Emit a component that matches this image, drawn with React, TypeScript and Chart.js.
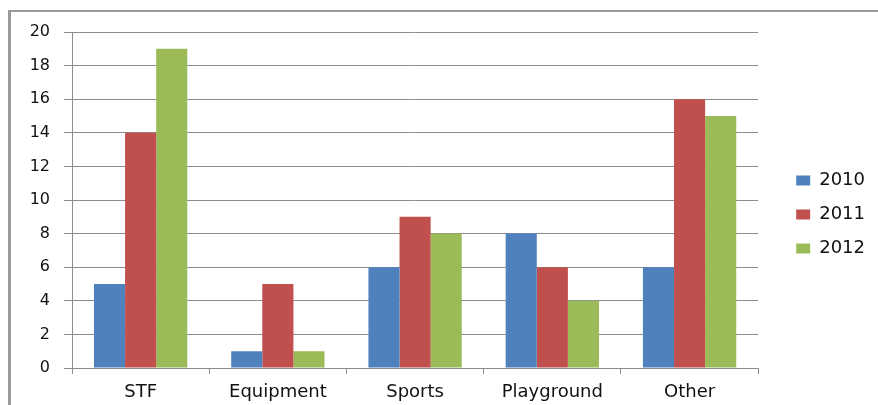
import React, { useEffect, useRef } from "react";
import { Chart, registerables } from "chart.js";

Chart.register(...registerables);

const categories = ["STF", "Equipment", "Sports", "Playground", "Other"];
const seriesNames = ["2010", "2011", "2012"];
const values2010 = [5, 1, 6, 8, 6];
const values2011 = [14, 5, 9, 6, 16];
const values2012 = [19, 1, 8, 4, 15];
const seriesColors = ["#4F81BD", "#C0504D", "#9BBB59"];

const legendShift = {
  id: "legendShift",
  afterLayout(chart: any) {
    const lg = chart.legend;
    if (lg) {
      lg.top -= 4;
      lg.bottom -= 4;
    }
  },
};

export default function App() {
  const ref = useRef<HTMLCanvasElement | null>(null);

  useEffect(() => {
    if (!ref.current) return;
    const data = [values2010, values2011, values2012];
    const chart = new Chart(ref.current, {
      type: "bar",
      data: {
        labels: categories,
        datasets: seriesNames.map((n, i) => ({
          label: n,
          data: data[i],
          backgroundColor: seriesColors[i],
          borderWidth: 0,
          categoryPercentage: 0.68,
          barPercentage: 1,
          yAxisID: "y",
        })),
      },
      options: {
        animation: false,
        responsive: false,
        maintainAspectRatio: false,
        layout: { padding: { top: 32, bottom: 0, left: 0, right: 3 } },
        plugins: {
          tooltip: { enabled: false },
          legend: {
            position: "right",
            labels: {
              boxWidth: 14,
              boxHeight: 10,
              padding: 16,
              color: "#111111",
              font: { family: "DejaVu Sans", size: 18 },
            },
          },
        },
        scales: {
          x: {
            afterFit: (s: any) => {
              s.height = 37;
            },
            grid: {
              display: true,
              drawOnChartArea: false,
              drawTicks: true,
              tickLength: 6,
              color: "#8c8c8c",
              lineWidth: 1,
            },
            border: { color: "#8c8c8c", width: 1 },
            ticks: {
              color: "#111111",
              padding: 8,
              font: { family: "DejaVu Sans", size: 18 },
            },
          },
          y: {
            min: 0,
            max: 20,
            afterFit: (s: any) => {
              s.width = 72;
            },
            grid: {
              color: "#8c8c8c",
              lineWidth: 1,
              drawTicks: true,
              tickLength: 8,
            },
            border: { color: "#8c8c8c", width: 1 },
            ticks: {
              stepSize: 2,
              color: "#111111",
              padding: 14,
              font: { family: "DejaVu Sans", size: 16 },
            },
          },
          yGap: {
            type: "linear",
            position: "right",
            min: 0,
            max: 20,
            afterFit: (s: any) => {
              s.width = 22;
            },
            grid: { display: false },
            border: { display: false },
            ticks: { display: false },
          },
        },
      },
      plugins: [legendShift],
    });
    return () => chart.destroy();
  }, []);

  return (
    <div style={{ position: "absolute", left: 0, top: 0, width: 878, height: 405, background: "#fff", overflow: "hidden" }}>
      <div
        style={{
          position: "absolute",
          left: 8,
          top: 10,
          width: 900,
          height: 420,
          borderTop: "2px solid #9a9a9a",
          borderLeft: "3px solid #9a9a9a",
        }}
      />
      <canvas ref={ref} width={878} height={405} style={{ position: "absolute", left: 0, top: 0, width: 878, height: 405 }} />
    </div>
  );
}
